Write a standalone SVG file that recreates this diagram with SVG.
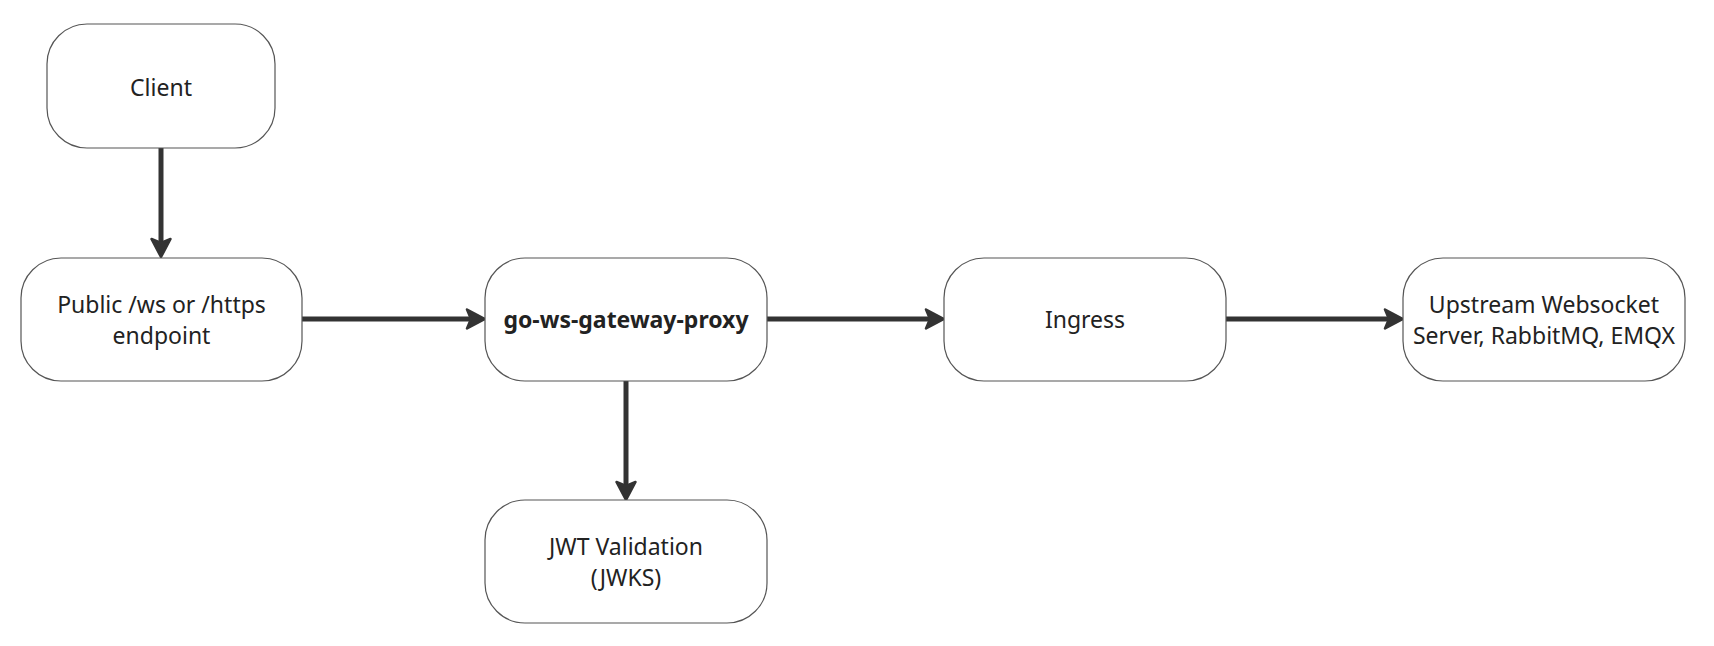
<svg xmlns="http://www.w3.org/2000/svg" width="1714" height="646" viewBox="0 0 1714 646">
<style>
.box{fill:#ffffff;stroke:#555555;stroke-width:1.2}
.t{font-family:"Noto Sans","Open Sans","DejaVu Sans",sans-serif;font-size:23px;fill:#222222;text-anchor:middle}
.b{font-weight:bold}
.c{fill:none;stroke:#333333;stroke-width:5}
</style>
<defs>
<marker id="ah" markerUnits="userSpaceOnUse" viewBox="0 0 22 22" refX="10" refY="11" markerWidth="22" markerHeight="22" orient="auto">
<path d="M2,1.5 L20,11 L2,20.5 L6,11 Z" fill="#333333" stroke="#333333" stroke-width="2.5" stroke-linejoin="round"/>
</marker>
</defs>
<rect width="1714" height="646" fill="#ffffff"/>
<g id="connectors">
<path class="c" d="M161,148 L161,247" marker-end="url(#ah)"/>
<path class="c" d="M302,319 L475,319" marker-end="url(#ah)"/>
<path class="c" d="M767,319 L934,319" marker-end="url(#ah)"/>
<path class="c" d="M1226,319 L1393,319" marker-end="url(#ah)"/>
<path class="c" d="M626,381 L626,490" marker-end="url(#ah)"/>
</g>
<g id="client">
<rect class="box" x="47" y="24" width="228" height="124" rx="40"/>
<text class="t" x="161" y="96">Client</text>
</g>
<g id="public">
<rect class="box" x="21" y="258" width="281" height="123" rx="40"/>
<text class="t" x="161.5" y="313">Public /ws or /https</text>
<text class="t" x="161.5" y="344">endpoint</text>
</g>
<g id="gateway">
<rect class="box" x="485" y="258" width="282" height="123" rx="40"/>
<text class="t b" x="626" y="328">go-ws-gateway-proxy</text>
</g>
<g id="ingress">
<rect class="box" x="944" y="258" width="282" height="123" rx="40"/>
<text class="t" x="1085" y="328">Ingress</text>
</g>
<g id="upstream">
<rect class="box" x="1403" y="258" width="282" height="123" rx="40"/>
<text class="t" x="1544" y="313">Upstream Websocket</text>
<text class="t" x="1544" y="344">Server, RabbitMQ, EMQX</text>
</g>
<g id="jwt">
<rect class="box" x="485" y="500" width="282" height="123" rx="40"/>
<text class="t" x="626" y="555">JWT Validation</text>
<text class="t" x="626" y="586">(JWKS)</text>
</g>
</svg>
